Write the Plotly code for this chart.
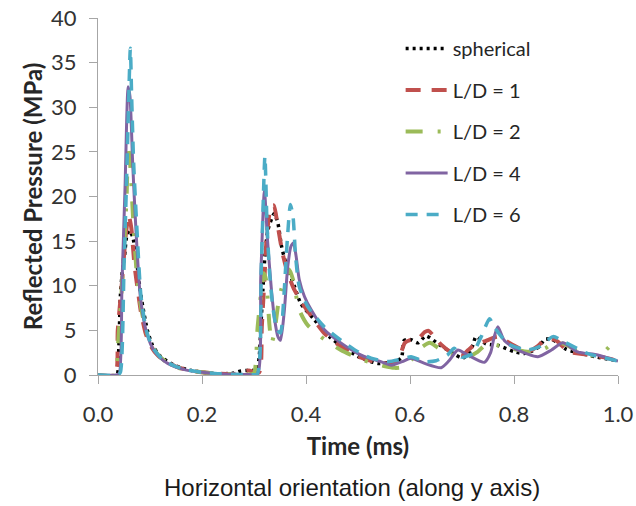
import plotly.graph_objects as go

# ---- data (time in ms, reflected pressure in MPa) ----
t_sph = [0, 0.036, 0.04, 0.043, 0.047, 0.051, 0.055, 0.06, 0.0667, 0.075, 0.081, 0.086, 0.095, 0.105, 0.12, 0.14,
         0.16, 0.18, 0.2, 0.23, 0.26, 0.275, 0.285, 0.294, 0.305, 0.31, 0.3135, 0.317, 0.321, 0.327, 0.339, 0.346,
         0.353, 0.3615, 0.378, 0.39, 0.416, 0.445, 0.474, 0.506, 0.538, 0.56, 0.583, 0.589, 0.602, 0.615, 0.631,
         0.656, 0.688, 0.701, 0.714, 0.721, 0.727, 0.746, 0.77, 0.801, 0.82, 0.835, 0.849, 0.859, 0.872, 0.885,
         0.9, 0.93, 0.96, 1.0]
p_sph = [0, 0, 3, 8.8, 11.7, 13.3, 15.5, 16.2, 15.5, 12.4, 9.5, 7.7, 5.0, 3.3, 2.1, 1.3,
         0.8, 0.5, 0.3, 0.15, 0.2, 0.45, 0.5, 0.55, 0.5, 2.0, 5.8, 9.5, 13.3, 16.3, 18.1, 17.0,
         14.4, 12.5, 9.9, 8.0, 6.2, 4.3, 3.0, 1.9, 1.3, 1.4, 1.87, 3.9, 3.96, 3.6, 4.37,
         3.4, 2.24, 1.87, 2.5, 3.36, 4.3, 3.5, 3.3, 2.6, 2.4, 2.7, 3.2, 4.0, 4.0, 3.6,
         2.9, 2.4, 2.0, 1.6]

t_ld1 = [0, 0.033, 0.038, 0.047, 0.053, 0.059, 0.064, 0.07, 0.077, 0.083, 0.092, 0.102, 0.115, 0.13, 0.15, 0.17,
         0.2, 0.23, 0.26, 0.28, 0.29, 0.31, 0.315, 0.32, 0.325, 0.333, 0.338, 0.346, 0.355, 0.365, 0.378, 0.397,
         0.435, 0.467, 0.5, 0.544, 0.575, 0.59, 0.6, 0.615, 0.628, 0.636, 0.645, 0.66, 0.68, 0.7, 0.712, 0.725,
         0.745, 0.769, 0.794, 0.826, 0.845, 0.86, 0.88, 0.906, 0.94, 0.97, 1.0]
p_ld1 = [0, 0, 5, 11, 15.5, 17.9, 16.5, 12.4, 9.3, 6.9, 4.6, 3.2, 2.2, 1.5, 0.95, 0.6,
         0.3, 0.15, 0.1, 0.4, 0.5, 0.3, 5.4, 10.7, 15.9, 18.9, 19.0, 16.6, 13.6, 11.4, 9.5, 7.7,
         4.7, 3.2, 2.1, 1.3, 1.5, 3.6, 3.9, 4.0, 4.8, 4.95, 4.4, 3.4, 2.5, 2.2, 2.8, 3.4,
         3.8, 4.3, 3.5, 2.6, 3.2, 4.0, 3.9, 2.6, 2.3, 2.0, 1.6]

t_ld2 = [0, 0.034, 0.038, 0.044, 0.049, 0.055, 0.058, 0.062, 0.068, 0.075, 0.083, 0.091, 0.1, 0.115, 0.13, 0.15,
         0.17, 0.2, 0.23, 0.26, 0.29, 0.3, 0.307, 0.3135, 0.319, 0.323, 0.33, 0.334, 0.339, 0.346, 0.352, 0.3615,
         0.368, 0.375, 0.387, 0.403, 0.435, 0.467, 0.5, 0.53, 0.55, 0.57, 0.583, 0.6, 0.62, 0.638, 0.655, 0.675,
         0.69, 0.71, 0.73, 0.748, 0.77, 0.8, 0.83, 0.86, 0.878, 0.9, 0.93, 0.96, 0.975, 0.982]
p_ld2 = [0, 0, 3, 8, 13, 20, 25.5, 23.5, 17, 11, 7.5, 5.3, 3.6, 2.3, 1.5, 0.9,
         0.55, 0.3, 0.15, 0.08, 0.05, 0.2, 5.4, 9.1, 11.4, 10.7, 5.4, 3.6, 4.7, 7.7, 9.5, 11.0,
         11.8, 10.7, 7.3, 5.6, 4.0, 2.8, 1.9, 1.3, 1.0, 0.8, 0.85, 1.5, 3.0, 3.6, 3.0, 2.4,
         2.2, 2.0, 2.6, 3.5, 3.3, 2.9, 2.6, 3.0, 3.7, 3.4, 2.4, 2.2, 2.7, 3.1]

t_ld4 = [0, 0.035, 0.041, 0.046, 0.052, 0.058, 0.0615, 0.0667, 0.073, 0.0814, 0.0923, 0.105, 0.12, 0.134, 0.15, 0.17,
         0.2, 0.23, 0.26, 0.29, 0.307, 0.313, 0.32, 0.326, 0.333, 0.339, 0.346, 0.351, 0.358, 0.365, 0.371, 0.376,
         0.381, 0.387, 0.397, 0.41, 0.435, 0.467, 0.5, 0.525, 0.544, 0.564, 0.585, 0.602, 0.628, 0.66, 0.675, 0.692,
         0.711, 0.743, 0.755, 0.762, 0.769, 0.781, 0.807, 0.846, 0.872, 0.894, 0.922, 0.961, 1.0]
p_ld4 = [0, 0, 0.2, 10, 21, 32.3, 31.2, 23.7, 16.2, 8.8, 5.0, 3.0, 1.9, 1.3, 0.9, 0.55,
         0.3, 0.15, 0.08, 0.05, 0.1, 11, 20.7, 15.1, 9.9, 6.5, 4.3, 3.9, 7.0, 12.2, 14.4, 14.8,
         13.3, 10.7, 8.8, 7.3, 5.1, 3.6, 2.4, 1.8, 1.5, 1.1, 1.5, 1.87, 1.3, 0.82, 1.6, 2.8,
         2.24, 1.42, 2.5, 4.3, 5.4, 3.9, 2.8, 2.05, 2.8, 3.6, 2.6, 2.24, 1.57]

t_ld6 = [0, 0.038, 0.043, 0.05, 0.056, 0.0622, 0.0647, 0.0686, 0.075, 0.0827, 0.093, 0.105, 0.12, 0.134, 0.15, 0.17,
         0.2, 0.23, 0.26, 0.29, 0.306, 0.314, 0.321, 0.325, 0.33, 0.336, 0.344, 0.351, 0.357, 0.364, 0.37, 0.375,
         0.38, 0.387, 0.403, 0.435, 0.467, 0.5, 0.525, 0.557, 0.585, 0.602, 0.628, 0.65, 0.672, 0.685, 0.7, 0.72,
         0.737, 0.753, 0.762, 0.788, 0.826, 0.85, 0.875, 0.897, 0.942, 1.0]
p_ld6 = [0, 0, 0.3, 12, 24, 36.6, 31.2, 23.7, 16.2, 8.8, 5.0, 3.1, 2.0, 1.4, 0.95, 0.6,
         0.3, 0.15, 0.08, 0.05, 0.1, 12, 24.5, 17, 11.4, 7.7, 5.1, 4.7, 8.4, 15.1, 19.1, 17.8,
         13.3, 9.9, 7.7, 5.4, 3.9, 2.6, 1.9, 1.5, 1.8, 2.05, 1.5, 1.6, 2.24, 3.0, 2.0, 2.4,
         4.3, 6.3, 5.4, 3.5, 2.8, 3.2, 4.3, 3.7, 2.4, 1.57]

series_names = ["spherical", "L/D = 1", "L/D = 2", "L/D = 4", "L/D = 6"]
x_ticks = [0.0, 0.2, 0.4, 0.6, 0.8, 1.0]
y_ticks = [0, 5, 10, 15, 20, 25, 30, 35, 40]

# ---- styles ----
styles = [
    dict(color="#000000", width=3.5, dash="3px,4px"),
    dict(color="#C0504D", width=4, dash="15px,11px"),
    dict(color="#9BBB59", width=4, dash="17px,15px,3px,15px"),
    dict(color="#8064A2", width=3, dash="solid"),
    dict(color="#4BACC6", width=3.5, dash="12px,9px"),
]

data = [(t_sph, p_sph), (t_ld1, p_ld1), (t_ld2, p_ld2), (t_ld4, p_ld4), (t_ld6, p_ld6)]

fig = go.Figure()
for i, ((tx, py), name) in enumerate(zip(data, series_names)):
    fig.add_trace(go.Scatter(
        x=tx, y=py, mode="lines", name=name, legendgroup=f"g{i}",
        line=dict(shape="spline", smoothing=0.6, **styles[i]),
    ))

axis_grey = "#A6A6A6"
tick_font = dict(family="Lato", size=22, color="#333333")

fig.update_layout(
    width=636, height=506, autosize=False,
    margin=dict(l=98, r=18, t=18, b=131, autoexpand=False),
    paper_bgcolor="white", plot_bgcolor="white",
    showlegend=True,
    legend=dict(
        x=0.582, y=0.969, xanchor="left", yanchor="top",
        font=dict(family="Lato", size=20, color="#262626"),
        tracegroupgap=12.5, traceorder="grouped", itemwidth=42,
        bgcolor="rgba(0,0,0,0)",
    ),
    xaxis=dict(
        range=[0, 1], tickvals=x_ticks, ticktext=[f"{v:.1f}" for v in x_ticks],
        showgrid=False, zeroline=False, showline=True, linecolor=axis_grey, linewidth=1,
        ticks="outside", ticklen=8, tickcolor=axis_grey, tickfont=tick_font,
        ticklabelstandoff=12, automargin=False,
        title=dict(text="<b>Time (ms)</b>", font=dict(family="Lato", size=24, color="#262626"), standoff=11),
    ),
    yaxis=dict(
        range=[0, 40], tickvals=y_ticks,
        showgrid=False, zeroline=False, showline=True, linecolor=axis_grey, linewidth=1,
        ticks="outside", ticklen=8, tickcolor=axis_grey, tickfont=tick_font,
        ticklabelstandoff=8, automargin=False,
        title=dict(text="<b>Reflected Pressure (MPa)</b>", font=dict(family="Lato", size=24, color="#262626"), standoff=1),
    ),
    annotations=[dict(
        text="Horizontal orientation (along y axis)", xref="paper", yref="paper",
        x=0.488, y=-0.3165, xanchor="center", yanchor="middle", showarrow=False,
        font=dict(family="Liberation Sans", size=24, color="#1a1a1a"),
    )],
)

fig.write_html("out.html", config={"displayModeBar": False},
               post_script="document.body.style.margin='0px';")
